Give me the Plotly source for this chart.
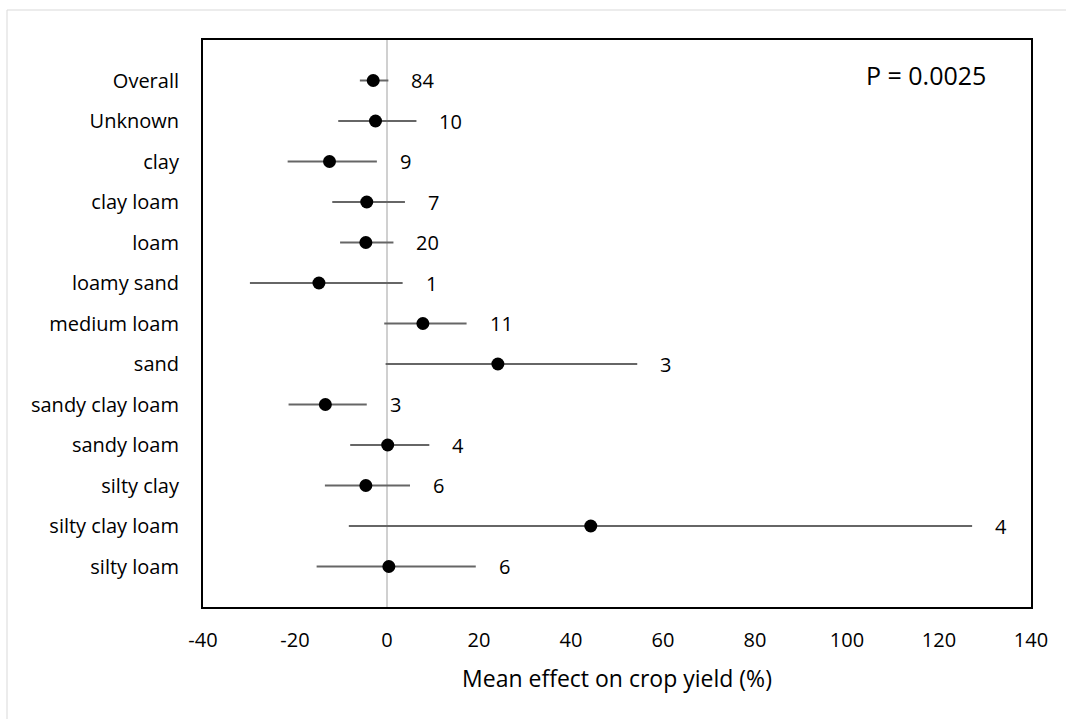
import plotly.graph_objects as go

categories = ["Overall", "Unknown", "clay", "clay loam", "loam", "loamy sand",
              "medium loam", "sand", "sandy clay loam", "sandy loam", "silty clay",
              "silty clay loam", "silty loam"]
mean_effect = [-3.0, -2.5, -12.5, -4.4, -4.6, -14.8, 7.8, 24.1, -13.4, 0.15, -4.6, 44.3, 0.4]
ci_lower = [-5.9, -10.6, -21.6, -11.9, -10.2, -29.8, -0.6, -0.3, -21.4, -8.0, -13.5, -8.3, -15.3]
ci_upper = [0.3, 6.4, -2.2, 3.9, 1.4, 3.4, 17.3, 54.4, -4.4, 9.2, 5.0, 127.2, 19.3]
n_studies = [84, 10, 9, 7, 20, 1, 11, 3, 3, 4, 6, 4, 6]
x_ticks = [-40, -20, 0, 20, 40, 60, 80, 100, 120, 140]
p_text = "P = 0.0025"

FONT = "Open Sans"

fig = go.Figure()
fig.add_trace(go.Scatter(
    x=mean_effect, y=categories, mode="markers",
    marker=dict(color="black", size=13),
    error_x=dict(type="data", symmetric=False,
                 array=[u - m for u, m in zip(ci_upper, mean_effect)],
                 arrayminus=[m - l for m, l in zip(mean_effect, ci_lower)],
                 color="#666666", thickness=2, width=0),
    showlegend=False, hoverinfo="skip",
))

for cat, up, n in zip(categories, ci_upper, n_studies):
    fig.add_annotation(x=up, y=cat, text=str(n), showarrow=False,
                       xanchor="left", yanchor="middle", xshift=21,
                       font=dict(family=FONT, size=20, color="black"))

fig.add_annotation(x=0.873, y=0.938, xref="paper", yref="paper", text=p_text,
                   showarrow=False, xanchor="center", yanchor="middle",
                   font=dict(family=FONT, size=25, color="black"))

# light outer chart border (Excel chart area)
fig.add_shape(type="rect", xref="paper", yref="paper",
              x0=-0.2367, x1=1.2, y0=-0.4, y1=1.0529,
              line=dict(color="#d9d9d9", width=1), layer="below")

fig.update_layout(
    width=1066, height=719,
    margin=dict(l=203, r=35, t=40, b=112),
    paper_bgcolor="white", plot_bgcolor="white",
    font=dict(family=FONT, size=20, color="black"),
    xaxis=dict(range=[-40, 140], tickvals=x_ticks, ticktext=[str(t) for t in x_ticks],
               showgrid=False, zeroline=True, zerolinecolor="#d0d0d0", zerolinewidth=2,
               showline=True, linecolor="black", linewidth=2, mirror=True,
               ticks="", ticklabelstandoff=14,
               title=dict(text="Mean effect on crop yield (%)", standoff=19,
                          font=dict(family=FONT, size=23, color="black"))),
    yaxis=dict(type="category", categoryorder="array", categoryarray=categories,
               range=[13, -1], showgrid=False, zeroline=False,
               showline=True, linecolor="black", linewidth=2, mirror=True,
               ticks="", ticklabelstandoff=18),
)

fig.write_html("out.html")
